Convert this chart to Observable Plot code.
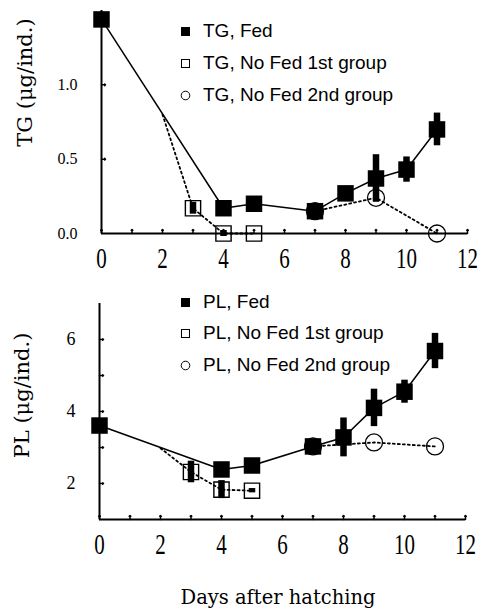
<!DOCTYPE html>
<html><head><meta charset="utf-8">
<script src="https://cdn.jsdelivr.net/npm/d3@7"></script>
<script src="https://cdn.jsdelivr.net/npm/@observablehq/plot@0.6"></script>
<style>
body{margin:0;background:#fff;}
#wrap{position:relative;width:478px;height:609px;overflow:hidden;background:#fff;}
#wrap svg.plot{position:absolute;left:0;}
.row{position:absolute;height:20px;display:flex;align-items:center;white-space:nowrap;
  font-family:"Liberation Sans",Arial,sans-serif;font-size:19px;color:#000;}
.cap{position:absolute;font-family:"DejaVu Serif",serif;font-size:19.5px;white-space:nowrap;transform:translateX(-50%);}
</style></head><body><div id="wrap"></div>
<script>
// ---------- data ----------
const xTicks = [0, 2, 4, 6, 8, 10, 12];
const xMinorTicks = [0,1,2,3,4,5,6,7,8,9,10,11,12];

// TG panel
const tgFedDays = [0, 4, 5, 7, 8, 9, 10, 11];
const tgFed     = [1.44, 0.17, 0.20, 0.15, 0.27, 0.37, 0.43, 0.70];
const tgFedErr  = [0, 0, 0, 0, 0, 0.16, 0.085, 0.11];
const tgNoFed1BranchDay = 2, tgNoFed1BranchVal = 0.80;
const tgNoFed1Days = [3, 4, 5];
const tgNoFed1     = [0.17, 0.0, 0.0];
const tgNoFed1Err  = [0.04, 0.02, 0];
const tgNoFed2Days = [7, 9, 11];
const tgNoFed2     = [0.15, 0.24, 0.0];
const tgYTicks = [0, 0.5, 1.0];
const tgYMinor = [0.5, 1.0];
const tgLegend = ["TG, Fed", "TG, No Fed 1st group", "TG, No Fed 2nd group"];

// PL panel
const plFedDays = [0, 4, 5, 7, 8, 9, 10, 11];
const plFed     = [3.61, 2.39, 2.50, 3.03, 3.28, 4.10, 4.55, 5.68];
const plFedErr  = [0, 0, 0, 0, 0.54, 0.52, 0.32, 0.49];
const plNoFed1BranchDay = 2, plNoFed1BranchVal = 2.98;
const plNoFed1Days = [3, 4, 5];
const plNoFed1     = [2.32, 1.83, 1.80];
const plNoFed1Err  = [0.30, 0.25, 0.06];
const plNoFed2Days = [7, 9, 11];
const plNoFed2     = [3.03, 3.14, 3.03];
const plYTicks = [2, 4, 6];
const plYMinor = [2, 3, 4, 5, 6];
const plLegend = ["PL, Fed", "PL, No Fed 1st group", "PL, No Fed 2nd group"];

const xLabel = "Days after hatching";

// ---------- drawing ----------
const wrap = document.getElementById("wrap");
const zip = (xs, ys, es) => xs.map((x, i) => ({day: x, v: ys[i], e: es ? es[i] : 0}));

function panel(o) {
  const fed = zip(o.fedDays, o.fed, o.fedErr);
  const n1 = zip(o.n1Days, o.n1, o.n1Err);
  const n1Line = [{day: o.branchDay, v: o.branchVal}, ...n1];
  const n2 = zip(o.n2Days, o.n2);
  const errs = [...fed, ...n1].filter(d => d.e > 0);
  const y0 = o.yDomain[0];
  const svg = Plot.plot({
    width: 478, height: o.height,
    marginLeft: o.ml, marginRight: o.mr, marginTop: o.mt, marginBottom: o.mb,
    style: {background: "transparent", overflow: "visible"},
    x: {domain: [0, 12]},
    y: {domain: o.yDomain},
    marks: [
      Plot.ruleY([y0], {strokeWidth: 2}),
      Plot.ruleX([0], {strokeWidth: 2}),
      Plot.vector(xMinorTicks, {x: d => d, y: y0, length: 4, rotate: 0, anchor: "start", strokeWidth: 1.5}),
      Plot.vector(o.yMinor, {x: 0, y: d => d, length: 4, rotate: 90, anchor: "start", strokeWidth: 1.5}),
      Plot.axisX({ticks: xTicks, tickSize: 0, tickPadding: 13, label: null,
        fontSize: 30, fontFamily: "Liberation Serif"}),
      Plot.axisY({ticks: o.yTicks, tickSize: 0, tickPadding: o.yPad, label: null,
        tickFormat: o.yFormat, fontSize: o.yFont, fontFamily: "Liberation Serif"}),
      Plot.line(n1Line, {x: "day", y: "v", stroke: "black", strokeWidth: 1.8, strokeDasharray: "2,3"}),
      Plot.line(n2, {x: "day", y: "v", stroke: "black", strokeWidth: 1.8, strokeDasharray: "2,3"}),
      Plot.line(fed, {x: "day", y: "v", stroke: "black", strokeWidth: 1.5}),
      Plot.ruleX(errs, {x: "day", y1: d => d.v - d.e, y2: d => d.v + d.e, stroke: "black", strokeWidth: 6.5}),
      Plot.dot(n1, {x: "day", y: "v", symbol: "square", r: 8.6, fill: "none", stroke: "black", strokeWidth: 1.4}),
      Plot.dot(n2, {x: "day", y: "v", symbol: "circle", r: 8.5, fill: "none", stroke: "black", strokeWidth: 1.3}),
      Plot.dot(fed, {x: "day", y: "v", symbol: "square", r: 9.3, fill: "black", stroke: "none"}),
      Plot.text([o.yLabel], {frameAnchor: "top-left", dx: o.ldx, dy: o.ldy, rotate: -90,
        textAnchor: "middle", lineAnchor: "middle",
        fontSize: 21, fontFamily: "DejaVu Serif", fill: "black"})
    ]
  });
  svg.classList.add("plot");
  svg.style.top = o.top + "px";
  svg.querySelectorAll('g[aria-label="x-axis tick label"] text').forEach(t => {
    const tr = t.getAttribute("transform") || "";
    t.setAttribute("transform", tr + " scale(0.7,1)");
  });
  wrap.appendChild(svg);

  // legend
  const kinds = ["fsq", "osq", "ocirc"];
  o.legend.forEach((txt, i) => {
    const row = document.createElement("div");
    row.className = "row";
    row.style.left = "180px";
    row.style.top = (o.legTop[i] - 10) + "px";
    const k = kinds[i];
    const mk = k === "fsq" ? '<rect x="1" y="1" width="9" height="9" fill="black"/>'
      : k === "osq" ? '<rect x="1.5" y="1.5" width="8" height="8" fill="none" stroke="black" stroke-width="1"/>'
      : '<circle cx="5.5" cy="5.5" r="4.3" fill="none" stroke="black" stroke-width="1"/>';
    row.innerHTML = `<svg width="11" height="11">${mk}</svg><span></span>`;
    row.querySelector("span").textContent = txt;
    row.querySelector("svg").style.marginRight = "12px";
    wrap.appendChild(row);
  });
}

panel({
  top: 0, height: 275, ml: 101, mr: 11, mt: 10, mb: 42,
  yDomain: [0, 1.5], yTicks: tgYTicks, yMinor: tgYMinor, yFormat: d3.format(".1f"), yFont: 16, yPad: 24,
  fedDays: tgFedDays, fed: tgFed, fedErr: tgFedErr,
  n1Days: tgNoFed1Days, n1: tgNoFed1, n1Err: tgNoFed1Err, branchDay: tgNoFed1BranchDay, branchVal: tgNoFed1BranchVal,
  n2Days: tgNoFed2Days, n2: tgNoFed2,
  yLabel: "TG (μg/ind.)", ldx: -76, ldy: 72,
  legend: tgLegend, legTop: [31, 63, 95]
});
panel({
  top: 275, height: 285, ml: 99, mr: 13, mt: 28, mb: 41,
  yDomain: [1, 7], yTicks: plYTicks, yMinor: plYMinor, yFormat: d3.format("d"), yFont: 18, yPad: 24,
  fedDays: plFedDays, fed: plFed, fedErr: plFedErr,
  n1Days: plNoFed1Days, n1: plNoFed1, n1Err: plNoFed1Err, branchDay: plNoFed1BranchDay, branchVal: plNoFed1BranchVal,
  n2Days: plNoFed2Days, n2: plNoFed2,
  yLabel: "PL (μg/ind.)", ldx: -77, ldy: 92,
  legend: plLegend, legTop: [302, 333, 365]
});

const cap = document.createElement("div");
cap.className = "cap";
cap.style.left = "278px";
cap.style.top = "586px";
cap.textContent = xLabel;
wrap.appendChild(cap);
</script>
</body></html>
